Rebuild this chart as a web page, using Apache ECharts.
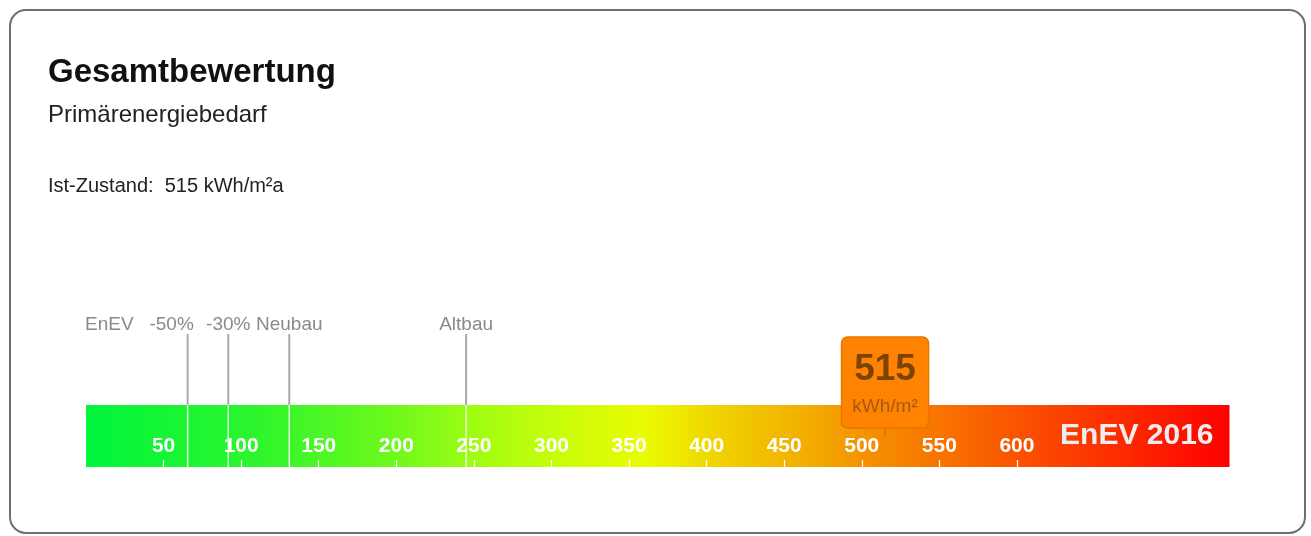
<!DOCTYPE html>
<html>
<head>
<meta charset="utf-8">
<script src="https://cdn.jsdelivr.net/npm/echarts@6/dist/echarts.min.js"></script>
<style>
html,body{margin:0;padding:0;background:#fff;}
#chart{width:1311px;height:536px;}
</style>
</head>
<body>
<div id="chart"></div>
<script>
// ---- data ----
const titleText = 'Gesamtbewertung';
const subtitleText = 'Primärenergiebedarf';
const statusLabel = 'Ist-Zustand:';
const unitText = 'kWh/m²a';
const markerUnit = 'kWh/m²';
const scaleName = 'EnEV 2016';
const scalePrefix = 'EnEV';
const scaleMin = 0;
const scaleMax = 737;
const tickValues = [50, 100, 150, 200, 250, 300, 350, 400, 450, 500, 550, 600];
const refLabels = ['-50%', '-30%', 'Neubau', 'Altbau'];
const refValues = [65.5, 91.7, 131, 245];
const currentValue = [515];

// ---- styles / layout ----
const FONT = '"Liberation Sans", Arial, Helvetica, sans-serif';
const refLabelDx = { '-50%': -16, '-30%': 0, 'Neubau': 0, 'Altbau': 0 };
const BAR_TOP = 405, BAR_H = 62;

const chart = echarts.init(document.getElementById('chart'), null, { renderer: 'canvas' });

const option = {
  animation: false,
  backgroundColor: '#ffffff',
  grid: { left: 86, right: 81.5, top: BAR_TOP, height: BAR_H, containLabel: false },
  xAxis: {
    type: 'value', min: scaleMin, max: scaleMax, z: 10,
    axisLine: { show: false },
    splitLine: { show: false },
    axisTick: {
      show: true, inside: true, length: 7, customValues: tickValues,
      lineStyle: { color: 'rgba(255,255,255,0.95)', width: 1.2 }
    },
    axisLabel: {
      show: true, inside: true, customValues: tickValues, margin: 21,
      verticalAlign: 'middle',
      color: '#ffffff', fontFamily: FONT, fontWeight: 'bold', fontSize: 21
    }
  },
  yAxis: { type: 'category', data: [scaleName], show: false },
  graphic: [
    { type: 'rect', z: 0, silent: true,
      shape: { x: 10, y: 10, width: 1295, height: 523, r: 16 },
      style: { fill: 'none', stroke: '#6e6e6e', lineWidth: 2 } },
    { type: 'text', left: 48, top: 56, z: 5,
      style: { text: titleText, font: 'bold 33px ' + FONT, fill: '#111' } },
    { type: 'text', left: 48, top: 103, z: 5,
      style: { text: subtitleText, font: '24px ' + FONT, fill: '#222' } },
    { type: 'text', left: 48, top: 176, z: 5,
      style: { text: statusLabel + '  ' + currentValue[0] + ' ' + unitText, font: '20px ' + FONT, fill: '#222' } },
    { type: 'text', left: 85, top: 315, z: 5,
      style: { text: scalePrefix, font: '19px ' + FONT, fill: '#8a8a8a' } }
  ],
  series: [
    {
      type: 'bar',
      data: [scaleMax],
      barWidth: BAR_H,
      z: 2,
      itemStyle: {
        color: new echarts.graphic.LinearGradient(0, 0, 1, 0, [
          { offset: 0.00, color: '#00f53c' },
          { offset: 0.15, color: '#2ef52c' },
          { offset: 0.27, color: '#6ff91c' },
          { offset: 0.35, color: '#a6fd10' },
          { offset: 0.43, color: '#d0fd08' },
          { offset: 0.49, color: '#eafb00' },
          { offset: 0.55, color: '#f0d400' },
          { offset: 0.62, color: '#f2b200' },
          { offset: 0.68, color: '#f59200' },
          { offset: 0.75, color: '#f87200' },
          { offset: 0.83, color: '#fb4c00' },
          { offset: 1.00, color: '#ff0000' }
        ])
      },
      label: {
        show: true, position: 'insideRight', distance: 16,
        formatter: scaleName,
        color: '#eeeeee', fontFamily: FONT, fontWeight: 'bold', fontSize: 30
      }
    },
    {
      type: 'custom',
      z: 5,
      data: refValues.map((v, i) => [v, i]),
      renderItem: function (params, api) {
        const x = api.coord([api.value(0), 0])[0];
        const lbl = refLabels[api.value(1)];
        return {
          type: 'group',
          children: [
            { type: 'line', shape: { x1: x, y1: 334, x2: x, y2: BAR_TOP },
              style: { stroke: '#a8a8a8', lineWidth: 2 } },
            { type: 'line', shape: { x1: x, y1: BAR_TOP, x2: x, y2: BAR_TOP + BAR_H },
              style: { stroke: 'rgba(255,255,255,0.85)', lineWidth: 1.5 } },
            { type: 'text', x: x + (refLabelDx[lbl] || 0), y: 325,
              style: { text: lbl, font: '19px ' + FONT, fill: '#8a8a8a', align: 'center', verticalAlign: 'middle' } }
          ]
        };
      }
    },
    {
      type: 'custom',
      z: 20,
      data: currentValue.map(v => [v, 0]),
      renderItem: function (params, api) {
        const x = api.coord([api.value(0), 0])[0];
        return {
          type: 'group',
          children: [
            { type: 'line', shape: { x1: x, y1: 428, x2: x, y2: 437 },
              style: { stroke: '#c86a10', lineWidth: 1 } },
            { type: 'rect', shape: { x: x - 43.5, y: 337, width: 87, height: 91, r: 6 },
              style: { fill: '#ff8200', stroke: '#e97400', lineWidth: 1.5 } },
            { type: 'text', x: x, y: 370,
              style: { text: String(api.value(0)), font: 'bold 37px ' + FONT, fill: '#7b4306', align: 'center', verticalAlign: 'middle' } },
            { type: 'text', x: x, y: 407,
              style: { text: markerUnit, font: '19px ' + FONT, fill: '#a35a14', align: 'center', verticalAlign: 'middle' } }
          ]
        };
      }
    }
  ]
};

chart.setOption(option);
</script>
</body>
</html>
